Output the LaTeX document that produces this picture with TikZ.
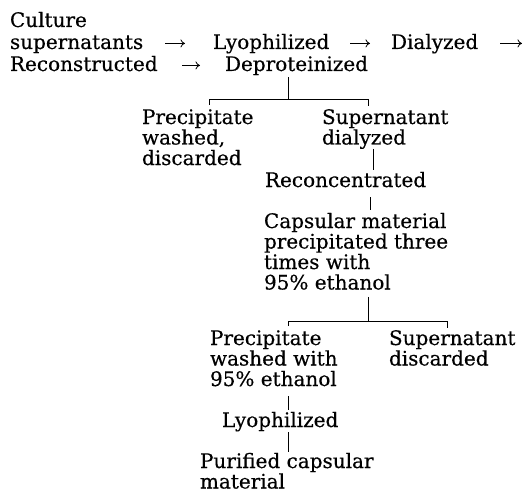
\documentclass[tikz,border=0pt]{standalone}
\usepackage{fontspec}
\setmainfont{DejaVu Serif}[FakeBold=0.4]
\usetikzlibrary{arrows.meta}
\newcommand{\stk}[1]{\vtop{\baselineskip=20.5pt\lineskiplimit=-20pt\halign{##\hfil\cr#1\crcr}}}
\begin{document}
\begin{tikzpicture}[x=1pt,y=1pt,
  txt/.style={anchor=base west, inner sep=0pt, outer sep=0pt, font=\fontsize{20pt}{20.5pt}\selectfont},
  conn/.style={line width=0.9pt},
  arr/.style={line width=0.8pt, -{Computer Modern Rightarrow[length=4.5pt,width=8pt]}}]
\useasboundingbox (0,0) rectangle (529,-492);
% texts
\node[txt] (cul) at (10,-27) {Culture};
\node[txt] (sup) at (10,-49) {supernatants};
\node[txt] (lyo) at (213,-49) {Lyophilized};
\node[txt] (dia) at (391,-49) {Dialyzed};
\node[txt] (rec) at (10,-71) {Reconstructed};
\node[txt] (dep) at (225,-71) {Deproteinized};
\node[txt] (pw) at (142,-124) {\stk{Precipitate\cr washed,\cr discarded}};
\node[txt] (sd) at (322,-124) {\stk{Supernatant\cr dialyzed}};
\node[txt] (rc) at (265,-187) {Reconcentrated};
\node[txt] (cm) at (264,-228) {\stk{Capsular material\cr precipitated three\cr times with\cr 95\% ethanol}};
\node[txt] (pw2) at (210,-345) {\stk{Precipitate\cr washed with\cr 95\% ethanol}};
\node[txt] (sd2) at (389,-345) {\stk{Supernatant\cr discarded}};
\node[txt] (ly2) at (222,-427) {Lyophilized};
\node[txt] (pc) at (200,-468) {\stk{Purified capsular\cr material}};
% arrow positions
\coordinate (a1s) at (165,3); \coordinate (a1e) at (185,3);
\coordinate (a2s) at (350,3); \coordinate (a2e) at (370,3);
\coordinate (a3s) at (500,3); \coordinate (a3e) at (522,3);
\coordinate (a4s) at (182,3); \coordinate (a4e) at (200,3);
\draw[arr, transform canvas={yshift=3pt}] (sup.mid east -| a1s) -- (lyo.mid west -| a1e);
\draw[arr, transform canvas={yshift=3pt}] (lyo.mid east -| a2s) -- (dia.mid west -| a2e);
\coordinate (e3) at (dia.mid east -| a3e);
\draw[arr, transform canvas={yshift=3pt}] (dia.mid east -| a3s) -- (e3);
\draw[arr, transform canvas={yshift=3pt}] (rec.mid east -| a4s) -- (dep.mid west -| a4e);
% first split
\coordinate (j1) at (288,-99);
\coordinate (l1) at (209,-99);
\coordinate (r1) at (368,-99);
\draw[conn, shorten <=2pt] (dep.south -| j1) -- (j1);
\draw[conn] ([yshift=-6pt]l1) -- (l1) -- (r1) -- ([yshift=-7pt]r1);
% supernatant chain
\coordinate (x1) at (373,0);
\coordinate (x2) at (370,0);
\draw[conn, shorten >=2pt] (sd.south -| x1) -- (rc.north -| x1);
\draw[conn, shorten <=10pt, shorten >=3pt] (rc.south -| x2) -- (cm.north -| x2);
% second split
\coordinate (j2) at (368,-321);
\coordinate (l2) at (288,-321);
\coordinate (r2) at (447,-321);
\draw[conn, shorten <=7pt] (cm.south -| j2) -- (j2);
\draw[conn] ([yshift=-5pt]l2) -- (l2) -- (r2) -- ([yshift=-7pt]r2);
% precipitate chain
\coordinate (x3) at (288,0);
\draw[conn, shorten <=10pt, shorten >=2pt] (pw2.south -| x3) -- (ly2.north -| x3);
\draw[conn, shorten <=1pt, shorten >=1pt] (ly2.south -| x3) -- (pc.north -| x3);
\end{tikzpicture}
\end{document}
